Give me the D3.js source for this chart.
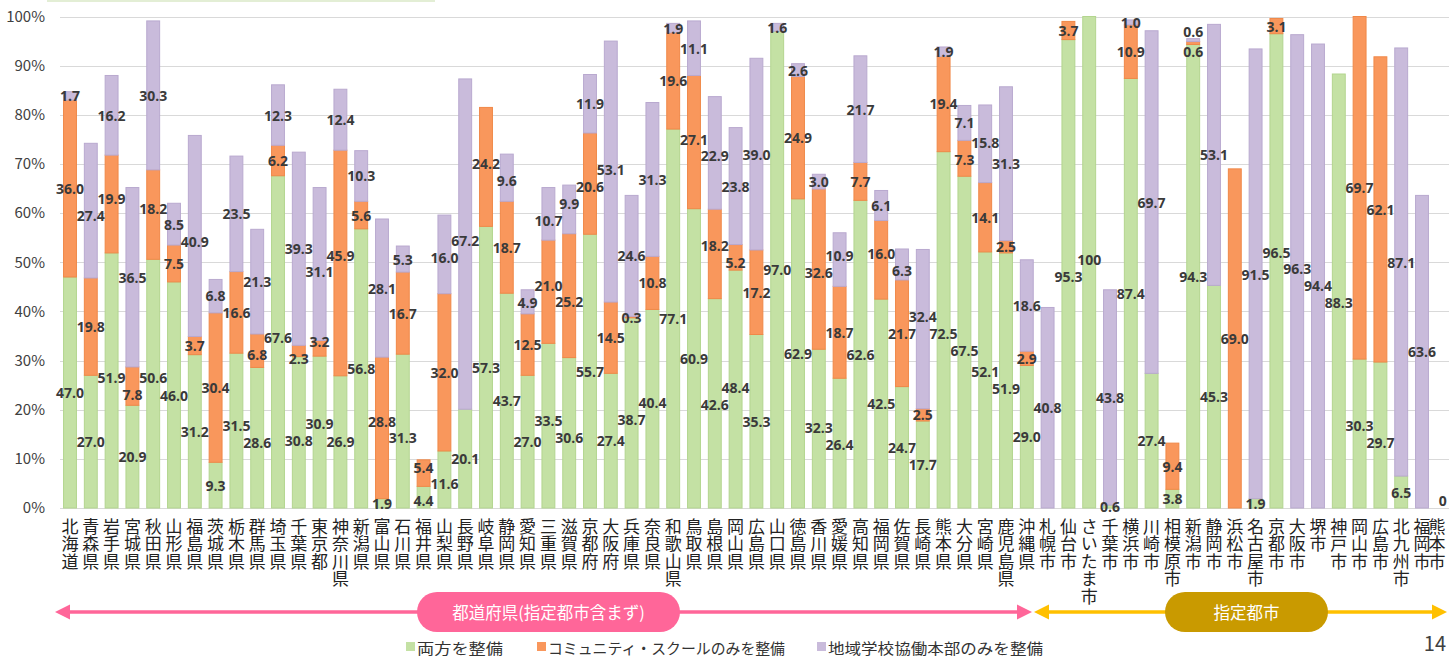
<!DOCTYPE html>
<html><head><meta charset="utf-8">
<script src="https://cdn.jsdelivr.net/npm/d3@7"></script>
<style>
html,body{margin:0;padding:0;background:#fff;overflow:hidden;}
svg{display:block;}
</style></head>
<body>
<svg id="chart" width="1449" height="658"></svg>
<script>
const categories = ["北海道","青森県","岩手県","宮城県","秋田県","山形県","福島県","茨城県","栃木県","群馬県","埼玉県","千葉県","東京都","神奈川県","新潟県","富山県","石川県","福井県","山梨県","長野県","岐阜県","静岡県","愛知県","三重県","滋賀県","京都府","大阪府","兵庫県","奈良県","和歌山県","鳥取県","島根県","岡山県","広島県","山口県","徳島県","香川県","愛媛県","高知県","福岡県","佐賀県","長崎県","熊本県","大分県","宮崎県","鹿児島県","沖縄県",
"札幌市","仙台市","さいたま市","千葉市","横浜市","川崎市","相模原市","新潟市","静岡市","浜松市","名古屋市","京都市","大阪市","堺市","神戸市","岡山市","広島市","北九州市","福岡市","熊本市"];
const both = [47.0,27.0,51.9,20.9,50.6,46.0,31.2,9.3,31.5,28.6,67.6,30.8,30.9,26.9,56.8,1.9,31.3,4.4,11.6,20.1,57.3,43.7,27.0,33.5,30.6,55.7,27.4,38.7,40.4,77.1,60.9,42.6,48.4,35.3,97.0,62.9,32.3,26.4,62.6,42.5,24.7,17.7,72.5,67.5,52.1,51.9,29.0,
0,95.3,100,0.6,87.4,27.4,3.8,94.3,45.3,0,1.9,96.5,0,0,88.3,30.3,29.7,6.5,0,0];
const csOnly = [36.0,19.8,19.9,7.8,18.2,7.5,3.7,30.4,16.6,6.8,6.2,2.3,3.2,45.9,5.6,28.8,16.7,5.4,32.0,0,24.2,18.7,12.5,21.0,25.2,20.6,14.5,0.3,10.8,19.6,27.1,18.2,5.2,17.2,0,24.9,32.6,18.7,7.7,16.0,21.7,2.5,19.4,7.3,14.1,2.5,2.9,
0,3.7,0,0,10.9,0,9.4,0.6,0,69.0,0,3.1,0,0,0,69.7,62.1,0,0,0];
const honbuOnly = [1.7,27.4,16.2,36.5,30.3,8.5,40.9,6.8,23.5,21.3,12.3,39.3,31.1,12.4,10.3,28.1,5.3,0,16.0,67.2,0,9.6,4.9,10.7,9.9,11.9,53.1,24.6,31.3,1.9,11.1,22.9,23.8,39.0,1.6,2.6,3.0,10.9,21.7,6.1,6.3,32.4,1.9,7.1,15.8,31.3,18.6,
40.8,0,0,43.8,1.0,69.7,0,0.6,53.1,0,91.5,0,96.3,94.4,0,0,0,87.1,63.6,0];
const seriesNames = ["両方を整備","コミュニティ・スクールのみを整備","地域学校協働本部のみを整備"];
const yTicks = [0,10,20,30,40,50,60,70,80,90,100];
const groupLabels = ["都道府県(指定都市含まず)","指定都市"];

const fills = ["#C4E1A4","#F9975C","#C9BBDB"];
const strokes = ["#B3D58F","#F08848","#B9A9CF"];
const labelFont = "'Open Sans','DejaVu Sans',sans-serif";
const jpFont = "'Noto Sans CJK JP','Noto Sans',sans-serif";

const svg = d3.select("#chart");
const W = 1449, H = 658;
const x = d3.scaleBand().domain(categories).range([59.6, 59.6 + 67*20.8]).paddingInner(0.38).paddingOuter(0.19);
const y = d3.scaleLinear().domain([0,100]).range([508, 16.5]);
const cx = c => x(c) + x.bandwidth()/2;

// faint decoration at top
svg.append("rect").attr("x",47).attr("y",0).attr("width",388).attr("height",2).attr("fill","#E3EED5");

// gridlines
svg.append("g").selectAll("line").data(yTicks).join("line")
  .attr("x1",60).attr("x2",W).attr("y1",d=>Math.round(y(d))+0.5).attr("y2",d=>Math.round(y(d))+0.5)
  .attr("stroke","#D9D9D9").attr("stroke-width",1.2);

// y axis labels
const yAxis = d3.axisLeft(y).tickValues(yTicks).tickFormat(d=>d+"%").tickSize(0).tickPadding(0);
const ya = svg.append("g").attr("transform","translate(45,0)").call(yAxis);
ya.select(".domain").remove();
ya.selectAll("text").attr("font-family",jpFont).attr("font-size",15).attr("fill","#404040");

// stacked data
const rows = categories.map((c,i)=>({cat:c, s0:both[i], s1:csOnly[i], s2:honbuOnly[i]}));
const stack = d3.stack().keys(["s0","s1","s2"])(rows);

const gBars = svg.append("g");
stack.forEach((layer,k)=>{
  gBars.append("g").selectAll("rect").data(layer.filter(d=>d[1]-d[0]>0)).join("rect")
    .attr("x",d=>x(d.data.cat)).attr("width",x.bandwidth())
    .attr("y",d=>y(d[1])).attr("height",d=>y(d[0])-y(d[1]))
    .attr("fill",fills[k]).attr("stroke",strokes[k]).attr("stroke-width",1);
});

// value labels with simple collision avoidance
const fmt = v => v===100 ? "100" : (v===0 ? "0" : v.toFixed(1));
const LH = 17, LH_SAME = 20, HALF = 7.5;
const labels = [];
rows.forEach((r,i)=>{
  let acc = 0;
  [r.s0,r.s1,r.s2].forEach(v=>{
    if(v>0){
      const top = y(acc+v), bot = y(acc), ay = (top+bot)/2;
      const tall = bot-top >= 2*HALF+2;
      labels.push({i, cat:r.cat, v, ay, py:ay, w:fmt(v).length*7.9+1,
        lo: tall ? top+HALF : ay-22, hi: tall ? bot-HALF : ay+22});
    }
    acc += v;
  });
  if(acc===0){ const ay=y(0)-8; labels.push({i,cat:r.cat,v:0,ay,py:ay,w:9,lo:ay,hi:ay}); }
});
for(let it=0; it<400; it++){
  for(let a=0;a<labels.length;a++){
    for(let b=a+1;b<labels.length;b++){
      const A=labels[a], B=labels[b];
      if(Math.abs(A.i-B.i)>1) continue;
      const dxx = Math.abs(cx(A.cat)-cx(B.cat));
      if(dxx >= (A.w+B.w)/2) continue;
      const need = A.i===B.i ? LH_SAME : LH;
      let dy = B.py - A.py;
      if(Math.abs(dy) >= need) continue;
      const dir = dy>0 ? 1 : (dy<0 ? -1 : (A.ay>=B.ay ? 1 : -1));
      const push = (need - Math.abs(dy))/2*0.5;
      A.py -= dir*push; B.py += dir*push;
    }
  }
  labels.forEach(l=>{ l.py += (l.ay-l.py)*0.005; l.py = Math.max(l.lo, Math.min(l.hi, l.py)); });
}
svg.append("g").selectAll("text").data(labels).join("text")
  .attr("x",d=>cx(d.cat)).attr("y",d=>d.py)
  .attr("text-anchor","middle").attr("dominant-baseline","central")
  .attr("font-family",labelFont).attr("font-weight",700).attr("font-size",14)
  .attr("fill","#3A3A3A").text(d=>fmt(d.v));

// category labels (vertical writing)
svg.append("g").selectAll("text").data(categories).join("text")
  .attr("x",c=>Math.min(cx(c), W-12)).attr("y",518)
  .attr("font-family",jpFont).attr("font-size",17).attr("fill","#222")
  .style("writing-mode","vertical-rl").style("text-orientation","upright")
  .style("letter-spacing","0.4px")
  .text(c=>c);

// group arrows
function arrowLine(g, x1, x2, yy, color){
  g.append("line").attr("x1",x1+12).attr("x2",x2-12).attr("y1",yy).attr("y2",yy)
    .attr("stroke",color).attr("stroke-width",3.5);
  g.append("path").attr("d",`M${x1},${yy} L${x1+15},${yy-7.5} L${x1+15},${yy+7.5} Z`).attr("fill",color);
  g.append("path").attr("d",`M${x2},${yy} L${x2-15},${yy-7.5} L${x2-15},${yy+7.5} Z`).attr("fill",color);
}
const gA = svg.append("g");
arrowLine(gA, 55, 1032, 612, "#FF6699");
arrowLine(gA, 1034, 1447, 612, "#FFC000");
const pills = [
  {x0:417, x1:680, fill:"#FF6699", text:groupLabels[0]},
  {x0:1165, x1:1328, fill:"#C99A00", text:groupLabels[1]}
];
pills.forEach(p=>{
  gA.append("rect").attr("x",p.x0).attr("y",592).attr("width",p.x1-p.x0).attr("height",40)
    .attr("rx",20).attr("fill",p.fill);
  gA.append("text").attr("x",(p.x0+p.x1)/2).attr("y",612).attr("text-anchor","middle")
    .attr("dominant-baseline","central").attr("font-family",jpFont).attr("font-size",16.5)
    .attr("fill","#fff").text(p.text);
});

// legend
const legendX = [406, 537, 817];
const legendLen = [86, 237, 215];
const gL = svg.append("g");
seriesNames.forEach((n,k)=>{
  gL.append("rect").attr("x",legendX[k]).attr("y",642).attr("width",9).attr("height",9).attr("fill",fills[k]);
  gL.append("text").attr("x",legendX[k]+11).attr("y",647).attr("dominant-baseline","central")
    .attr("font-family",jpFont).attr("font-size",15).attr("fill","#333")
    .attr("textLength",legendLen[k]).attr("lengthAdjust","spacingAndGlyphs").text(n);
});

// page number
svg.append("text").attr("x",1446).attr("y",651).attr("text-anchor","end").attr("font-family",jpFont).attr("font-size",20)
  .attr("fill","#404040").text("14");
</script>
</body></html>
